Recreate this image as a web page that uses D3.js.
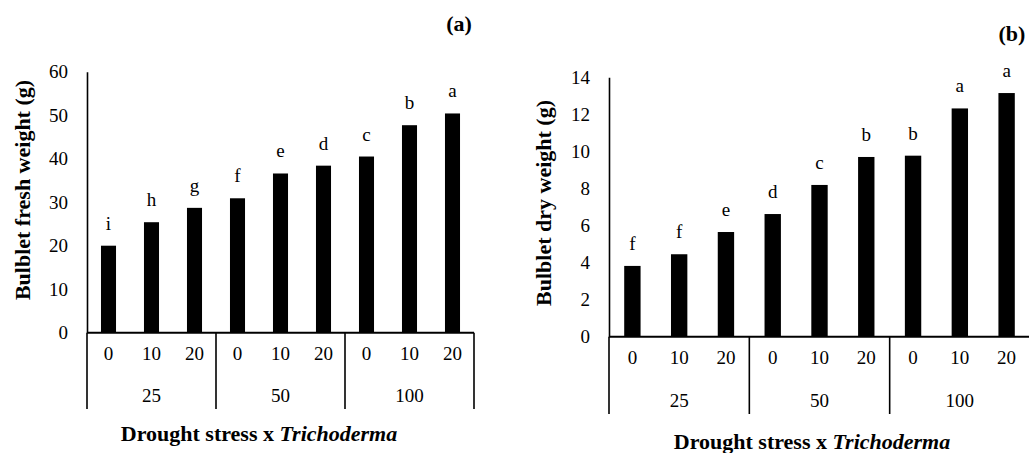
<!DOCTYPE html>
<html>
<head>
<meta charset="utf-8">
<script src="https://cdn.jsdelivr.net/npm/d3@7"></script>
<style>
  body { margin: 0; background: #fff; }
  svg { display: block; }
</style>
</head>
<body>
<svg width="1029" height="453"></svg>
<script>
// Datos
const droughtLevels = ["25", "50", "100"];
const trichoLevels = ["0", "10", "20"];
const freshWeight = [20.0, 25.4, 28.7, 30.9, 36.6, 38.4, 40.5, 47.7, 50.4];
const freshLetters = ["i", "h", "g", "f", "e", "d", "c", "b", "a"];
const dryWeight = [3.82, 4.45, 5.65, 6.62, 8.19, 9.70, 9.77, 12.32, 13.15];
const dryLetters = ["f", "f", "e", "d", "c", "b", "b", "a", "a"];
const freshTicks = [0, 10, 20, 30, 40, 50, 60];
const dryTicks = [0, 2, 4, 6, 8, 10, 12, 14];

const FONT = "Liberation Serif";
const svg = d3.select("svg").style("font-family", FONT);

// Combina sequía x Trichoderma en 9 categorías
const cats = [];
droughtLevels.forEach(g => trichoLevels.forEach(t => cats.push({ group: g, tricho: t })));

// Ajusta el estilo de los textos de un eje
function styleAxis(sel) {
  sel.attr("font-family", FONT).attr("font-size", 19);
  sel.selectAll("text")
      .style("font-family", FONT)
      .style("font-size", "19px")
      .attr("fill", "#000");
}

function drawPanel(opts) {
  const g = svg.append("g");

  const x = d3.scaleBand()
      .domain(d3.range(cats.length))
      .range([opts.left, opts.right])
      .paddingInner(0.65)
      .paddingOuter(0.325);

  const xGroup = d3.scaleBand()
      .domain(droughtLevels)
      .range([opts.left, opts.right]);

  const y = d3.scaleLinear()
      .domain([0, d3.max(opts.ticks)])
      .range([opts.bottom, opts.top]);

  // Eje Y
  const yAxis = g.append("g")
      .attr("transform", `translate(${opts.left},0)`)
      .call(d3.axisLeft(y).tickValues(opts.ticks).tickSizeInner(0).tickSizeOuter(0).tickPadding(19))
      .call(styleAxis);
  yAxis.select(".domain").attr("stroke", "#000").attr("stroke-width", 1.6);

  // Barras
  g.append("g")
    .selectAll("rect")
    .data(opts.values)
    .enter().append("rect")
      .attr("x", (d, i) => x(i))
      .attr("y", d => y(d))
      .attr("width", x.bandwidth())
      .attr("height", d => y(0) - y(d))
      .attr("fill", "#000");

  // Letras de significancia
  g.append("g")
    .selectAll("text")
    .data(opts.values)
    .enter().append("text")
      .attr("x", (d, i) => x(i) + x.bandwidth() / 2)
      .attr("y", d => y(d) - 16)
      .attr("text-anchor", "middle")
      .style("font-family", FONT)
      .style("font-size", "19px")
      .text((d, i) => opts.letters[i]);

  // Eje X: niveles de Trichoderma
  const xAxis = g.append("g")
      .attr("transform", `translate(0,${opts.bottom})`)
      .call(d3.axisBottom(x).tickSize(0).tickPadding(opts.subPad).tickFormat(i => cats[i].tricho))
      .call(styleAxis);
  xAxis.select(".domain").remove();

  g.append("line")
      .attr("x1", opts.left).attr("x2", opts.right)
      .attr("y1", y(0)).attr("y2", y(0))
      .attr("stroke", "#000").attr("stroke-width", 2);

  // Separadores de grupos
  const edges = droughtLevels.map(d => xGroup(d)).concat([opts.right]);
  g.append("g")
    .selectAll("line")
    .data(edges)
    .enter().append("line")
      .attr("x1", d => d).attr("x2", d => d)
      .attr("y1", y(0)).attr("y2", opts.sepBottom)
      .attr("stroke", "#000").attr("stroke-width", 1.6);

  // Niveles de sequía
  g.append("g")
    .selectAll("text")
    .data(droughtLevels)
    .enter().append("text")
      .attr("x", d => xGroup(d) + xGroup.bandwidth() / 2)
      .attr("y", opts.groupBase)
      .attr("text-anchor", "middle")
      .style("font-family", FONT)
      .style("font-size", "19px")
      .text(d => d);

  // Título eje X
  const xt = g.append("text")
      .attr("x", opts.xTitleX)
      .attr("y", opts.xTitleY)
      .attr("text-anchor", "middle")
      .style("font-family", FONT)
      .style("font-size", "22px")
      .style("font-weight", "bold");
  xt.append("tspan").text("Drought stress x ");
  xt.append("tspan").style("font-style", "italic").text("Trichoderma");

  // Título eje Y
  g.append("text")
      .attr("transform", `translate(${opts.yTitleX},${opts.yTitleY}) rotate(-90)`)
      .attr("text-anchor", "middle")
      .style("font-family", FONT)
      .style("font-size", "22px")
      .style("font-weight", "bold")
      .text(opts.yTitle);

  // Etiqueta del panel
  g.append("text")
      .attr("x", opts.tagX)
      .attr("y", opts.tagY)
      .attr("text-anchor", "middle")
      .style("font-family", FONT)
      .style("font-size", "22px")
      .style("font-weight", "bold")
      .text(opts.tag);
}

drawPanel({
  values: freshWeight, letters: freshLetters, ticks: freshTicks,
  left: 87, right: 474, top: 71.7, bottom: 332.7,
  subPad: 14, sepBottom: 409, groupBase: 402,
  xTitleX: 259, xTitleY: 441,
  yTitle: "Bulblet fresh weight (g)", yTitleX: 30, yTitleY: 190,
  tag: "(a)", tagX: 459, tagY: 31
});

drawPanel({
  values: dryWeight, letters: dryLetters, ticks: dryTicks,
  left: 609, right: 1030, top: 77.3, bottom: 336.7,
  subPad: 14, sepBottom: 414, groupBase: 407,
  xTitleX: 812, xTitleY: 449,
  yTitle: "Bulblet dry weight (g)", yTitleX: 551, yTitleY: 203,
  tag: "(b)", tagX: 1012, tagY: 41
});
</script>
</body>
</html>
